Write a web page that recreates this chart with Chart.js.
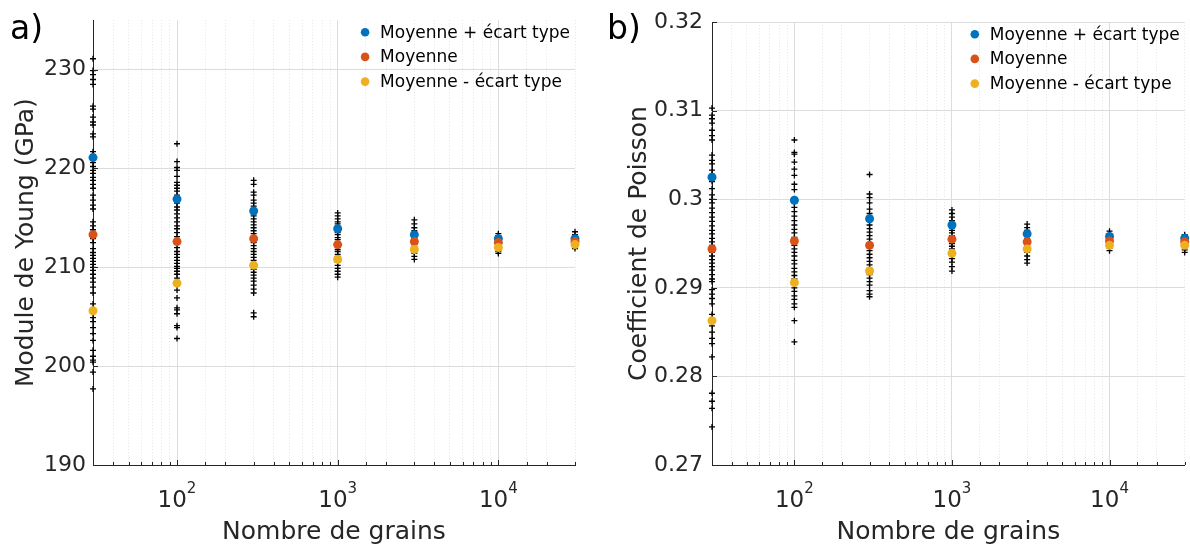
<!DOCTYPE html>
<html lang="fr">
<head>
<meta charset="utf-8">
<title>Module de Young et coefficient de Poisson</title>
<script src="https://cdn.jsdelivr.net/npm/chart.js@4.4.1/dist/chart.umd.min.js"></script>
<style>
  html, body { margin: 0; padding: 0; background: #fff; }
  #figure { position: relative; width: 1190px; height: 548px; overflow: hidden; }
  .panel { position: absolute; top: 0; width: 595px; height: 548px; }
  #panel-a { left: 0; }
  #panel-b { left: 595px; }
</style>
</head>
<body>
<div id="figure">
  <div class="panel" id="panel-a"><canvas id="youngChart" width="595" height="548"></canvas></div>
  <div class="panel" id="panel-b"><canvas id="poissonChart" width="595" height="548"></canvas></div>
</div>
<script>
// Nombre de grains (abscisses)
const grainCounts = [30, 100, 300, 1000, 3000, 10000, 30000];

// Module de Young (GPa) : tirages individuels, un tableau par nombre de grains
const youngSamples = [
    [231.1, 229.9, 229.5, 229.0, 228.5, 226.3, 226.0, 225.2, 224.7, 224.4, 223.5, 223.2, 221.7, 221.4, 221.0,
     220.6, 220.2, 219.8, 219.5, 219.1, 218.8, 218.4, 218.0, 217.3, 216.8, 216.3, 215.9, 214.6, 214.2, 213.8,
     213.3, 212.9, 212.5, 211.9, 211.5, 211.2, 210.9, 210.6, 210.3, 210.0, 209.7, 209.3, 208.9, 208.5, 208.0,
     207.4, 206.3, 205.5, 204.9, 204.5, 203.9, 203.3, 202.6, 201.6, 201.0, 200.6, 200.4, 199.4, 197.7],
    [222.5, 220.7, 220.1, 219.8, 219.2, 218.6, 218.3, 218.0, 217.7, 217.3, 216.9, 216.5, 216.1, 215.8, 215.4,
     215.0, 214.6, 214.2, 213.9, 213.5, 213.1, 212.8, 212.4, 212.0, 211.6, 211.3, 211.0, 210.7, 210.4, 210.1,
     209.9, 209.6, 209.3, 208.9, 208.5, 207.7, 206.9, 205.9, 205.7, 205.3, 204.1, 203.9, 202.8],
    [218.8, 218.4, 217.6, 217.3, 216.8, 216.5, 216.2, 215.9, 215.6, 215.2, 214.9, 214.6, 214.3, 214.0, 213.7,
     213.4, 213.1, 212.8, 212.5, 212.2, 211.9, 211.6, 211.3, 211.0, 210.7, 210.4, 210.1, 209.8, 209.5, 209.2,
     208.9, 208.6, 208.2, 207.8, 207.4, 205.4, 205.0],
    [215.5, 215.2, 214.9, 214.6, 214.4, 214.1, 213.8, 213.5, 213.3, 213.0, 212.8, 212.5, 212.3, 212.1, 211.8,
     211.6, 211.3, 211.1, 210.8, 210.5, 210.2, 209.9, 209.6, 209.3, 209.0],
    [214.8, 214.4, 214.0, 213.7, 213.4, 213.1, 212.9, 212.7, 212.5, 212.3, 212.1, 211.9, 211.7, 211.4, 211.1, 210.8],
    [213.4, 213.2, 213.0, 212.8, 212.6, 212.5, 212.4, 212.2, 212.0, 211.8, 211.6, 211.4],
    [213.6, 213.3, 213.0, 212.8, 212.6, 212.5, 212.3, 212.1, 211.9]
];
const youngMeanPlusStd = [221.1, 216.9, 215.7, 213.9, 213.3, 212.9, 212.9];
const youngMean = [213.3, 212.6, 212.9, 212.3, 212.6, 212.5, 212.6];
const youngMeanMinusStd = [205.6, 208.4, 210.2, 210.8, 211.8, 212.0, 212.3];
const youngTicks = [190, 200, 210, 220, 230];
const youngTickLabels = ['190', '200', '210', '220', '230'];

// Coefficient de Poisson : tirages individuels
const poissonSamples = [
    [0.3103, 0.3095, 0.3091, 0.3086, 0.3078, 0.3072, 0.3067, 0.3050, 0.3044, 0.3040, 0.3033, 0.3028, 0.3020, 0.3012,
     0.3005, 0.3000, 0.2996, 0.2990, 0.2985, 0.2980, 0.2975, 0.2970, 0.2965, 0.2961, 0.2956, 0.2952, 0.2948, 0.2944,
     0.2940, 0.2936, 0.2932, 0.2928, 0.2924, 0.2920, 0.2915, 0.2910, 0.2907, 0.2898, 0.2893, 0.2888, 0.2882, 0.2870,
     0.2857, 0.2850, 0.2843, 0.2837, 0.2822, 0.2781, 0.2772, 0.2764, 0.2743],
    [0.3067, 0.3053, 0.3051, 0.3042, 0.3034, 0.3027, 0.3017, 0.3011, 0.2996, 0.2991, 0.2986, 0.2981, 0.2976, 0.2971,
     0.2966, 0.2962, 0.2957, 0.2953, 0.2948, 0.2944, 0.2940, 0.2936, 0.2931, 0.2927, 0.2922, 0.2918, 0.2914, 0.2910,
     0.2900, 0.2896, 0.2891, 0.2887, 0.2882, 0.2878, 0.2863, 0.2839],
    [0.3028, 0.3006, 0.3002, 0.2996, 0.2989, 0.2984, 0.2980, 0.2975, 0.2971, 0.2967, 0.2963, 0.2959, 0.2955, 0.2951,
     0.2946, 0.2942, 0.2938, 0.2934, 0.2930, 0.2926, 0.2922, 0.2915, 0.2911, 0.2907, 0.2903, 0.2897, 0.2893, 0.2890],
    [0.2988, 0.2984, 0.2980, 0.2976, 0.2972, 0.2968, 0.2965, 0.2962, 0.2959, 0.2956, 0.2953, 0.2950, 0.2947, 0.2944,
     0.2941, 0.2937, 0.2933, 0.2929, 0.2924, 0.2919],
    [0.2972, 0.2968, 0.2965, 0.2962, 0.2959, 0.2956, 0.2953, 0.2950, 0.2947, 0.2944, 0.2940, 0.2936, 0.2932, 0.2928],
    [0.2964, 0.2961, 0.2959, 0.2957, 0.2955, 0.2953, 0.2951, 0.2949, 0.2947, 0.2945, 0.2942],
    [0.2960, 0.2958, 0.2956, 0.2954, 0.2952, 0.2950, 0.2948, 0.2946, 0.2943, 0.2940]
];
const poissonMeanPlusStd = [0.3025, 0.2999, 0.2978, 0.2971, 0.2961, 0.2958, 0.2956];
const poissonMean = [0.2944, 0.2953, 0.2948, 0.2955, 0.2952, 0.2953, 0.2952];
const poissonMeanMinusStd = [0.2863, 0.2906, 0.2919, 0.2939, 0.2944, 0.2948, 0.2948];
const poissonTicks = [0.27, 0.28, 0.29, 0.30, 0.31, 0.32];
const poissonTickLabels = ['0.27', '0.28', '0.29', '0.3', '0.31', '0.32'];

const legendLabels = ['Moyenne + écart type', 'Moyenne', 'Moyenne - écart type'];
const seriesColors = ['#0072BD', '#D95319', '#EDB120'];

const FONT = '"DejaVu Sans", sans-serif';
const AXIS_COLOR = '#262626';

function isDecade(v) {
    if (!v) return false;
    const l = Math.log10(v);
    return Math.abs(l - Math.round(l)) < 1e-9;
}

function toPoints(values) {
    return grainCounts.map((n, i) => ({ x: n, y: values[i] }));
}

function samplesToPoints(samples) {
    const pts = [];
    grainCounts.forEach((n, i) => samples[i].forEach(v => pts.push({ x: n, y: v })));
    return pts;
}

// Ticks intérieurs, étiquettes 10^n, légende et lettre du panneau (style MATLAB)
const matlabLook = {
    id: 'matlabLook',
    afterDraw(chart, args, opts) {
        const { ctx, chartArea: area, scales: { x, y } } = chart;
        ctx.save();

        ctx.strokeStyle = AXIS_COLOR;
        ctx.lineWidth = 1;
        x.ticks.forEach(t => {
            const px = Math.round(x.getPixelForValue(t.value)) + 0.5;
            const len = isDecade(t.value) ? 5 : 3;
            ctx.beginPath();
            ctx.moveTo(px, area.bottom);
            ctx.lineTo(px, area.bottom - len);
            ctx.stroke();
        });
        y.ticks.forEach(t => {
            const py = Math.round(y.getPixelForValue(t.value)) + 0.5;
            ctx.beginPath();
            ctx.moveTo(area.left, py);
            ctx.lineTo(area.left + 5, py);
            ctx.stroke();
        });

        // étiquettes 10^n
        ctx.fillStyle = AXIS_COLOR;
        ctx.textAlign = 'left';
        ctx.textBaseline = 'alphabetic';
        x.ticks.filter(t => isDecade(t.value)).forEach(t => {
            const px = x.getPixelForValue(t.value);
            const expo = String(Math.round(Math.log10(t.value)));
            ctx.font = `23px ${FONT}`;
            const wBase = ctx.measureText('10').width;
            ctx.font = `15px ${FONT}`;
            const wExp = ctx.measureText(expo).width;
            const x0 = px - (wBase + wExp) / 2;
            ctx.font = `23px ${FONT}`;
            ctx.fillText('10', x0, area.bottom + 42);
            ctx.font = `15px ${FONT}`;
            ctx.fillText(expo, x0 + wBase, area.bottom + 28);
        });

        // légende
        ctx.font = `17px ${FONT}`;
        const maxW = Math.max(...legendLabels.map(l => ctx.measureText(l).width));
        const textX = area.right - 5 - maxW;
        ctx.textBaseline = 'middle';
        legendLabels.forEach((label, i) => {
            const cy = area.top + 12 + i * 24.7;
            ctx.fillStyle = seriesColors[i];
            ctx.beginPath();
            ctx.arc(textX - 15, cy, 4.3, 0, Math.PI * 2);
            ctx.fill();
            ctx.fillStyle = '#000';
            ctx.fillText(label, textX, cy + 1);
        });

        // lettre du panneau
        ctx.font = `33px ${FONT}`;
        ctx.textBaseline = 'alphabetic';
        ctx.fillStyle = '#000';
        ctx.fillText(opts.panelLabel, opts.panelLabelX, 39);

        ctx.restore();
    }
};

function makeChart(canvasId, cfg) {
    const dot = (label, values, color, order) => ({
        label: label,
        data: toPoints(values),
        backgroundColor: color,
        borderWidth: 0,
        pointRadius: 4.5,
        order: order,
        clip: false
    });

    return new Chart(document.getElementById(canvasId), {
        type: 'scatter',
        data: {
            datasets: [
                dot(legendLabels[0], cfg.plus, seriesColors[0], 3),
                dot(legendLabels[1], cfg.mean, seriesColors[1], 2),
                dot(legendLabels[2], cfg.minus, seriesColors[2], 1),
                {
                    label: 'Tirages',
                    data: samplesToPoints(cfg.samples),
                    pointStyle: 'cross',
                    pointRadius: 3,
                    borderColor: '#000',
                    borderWidth: 1.3,
                    order: 4,
                    clip: false
                }
            ]
        },
        options: {
            responsive: false,
            animation: false,
            events: [],
            layout: { padding: { top: 18, right: cfg.rightPad, left: 0, bottom: 0 } },
            plugins: {
                legend: { display: false },
                tooltip: { enabled: false },
                matlabLook: { panelLabel: cfg.panelLabel, panelLabelX: cfg.panelLabelX }
            },
            scales: {
                x: {
                    type: 'logarithmic',
                    min: 30,
                    max: 30000,
                    afterFit: s => { s.height = 83; },
                    ticks: { display: false, autoSkip: false },
                    grid: {
                        drawTicks: false,
                        color: c => isDecade(c.tick && c.tick.value) ? '#dcdcdc' : '#e6e6e6'
                    },
                    border: {
                        color: AXIS_COLOR,
                        width: 1,
                        dash: c => (c.tick && !isDecade(c.tick.value)) ? [1, 2] : []
                    },
                    title: {
                        display: true,
                        text: 'Nombre de grains',
                        color: AXIS_COLOR,
                        font: { family: FONT, size: 25 },
                        padding: { top: 0, bottom: 1 }
                    }
                },
                y: {
                    type: 'linear',
                    min: cfg.yMin,
                    max: cfg.yMax,
                    afterFit: s => { s.width = cfg.axisWidth; },
                    afterBuildTicks: s => { s.ticks = cfg.ticks.map(v => ({ value: v })); },
                    ticks: {
                        color: AXIS_COLOR,
                        padding: cfg.tickPad,
                        font: { family: FONT, size: 22 },
                        callback: (v, i) => cfg.tickLabels[i]
                    },
                    grid: { drawTicks: false, color: '#dcdcdc' },
                    border: { color: AXIS_COLOR, width: 1 },
                    title: {
                        display: true,
                        text: cfg.yTitle,
                        color: AXIS_COLOR,
                        font: { family: FONT, size: 25 },
                        padding: { top: cfg.yTitlePad, bottom: 0 }
                    }
                }
            }
        },
        plugins: [matlabLook]
    });
}

makeChart('youngChart', {
    samples: youngSamples, plus: youngMeanPlusStd, mean: youngMean, minus: youngMeanMinusStd,
    yMin: 190, yMax: 235, ticks: youngTicks, tickLabels: youngTickLabels,
    yTitle: 'Module de Young (GPa)', panelLabel: 'a)', panelLabelX: 10,
    axisWidth: 93, rightPad: 20, tickPad: 7, yTitlePad: 11
});

makeChart('poissonChart', {
    samples: poissonSamples, plus: poissonMeanPlusStd, mean: poissonMean, minus: poissonMeanMinusStd,
    yMin: 0.27, yMax: 0.32, ticks: poissonTicks, tickLabels: poissonTickLabels,
    yTitle: 'Coefficient de Poisson', panelLabel: 'b)', panelLabelX: 12,
    axisWidth: 117, rightPad: 4, tickPad: 9, yTitlePad: 29
});
</script>
</body>
</html>
